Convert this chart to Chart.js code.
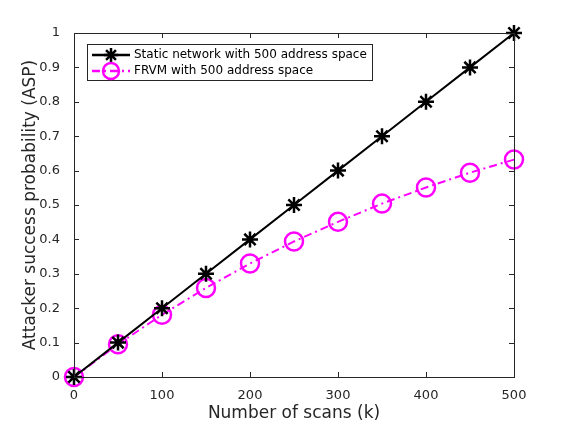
<!DOCTYPE html>
<html>
<head>
<meta charset="utf-8">
<script src="https://cdn.jsdelivr.net/npm/chart.js@4/dist/chart.umd.min.js"></script>
<style>
  html, body { margin: 0; padding: 0; background: #fff; }
  #wrap { width: 568px; height: 424px; }
</style>
</head>
<body>
<div id="wrap"><canvas id="c" width="568" height="424"></canvas></div>
<script>
// Data
const scans = [0, 50, 100, 150, 200, 250, 300, 350, 400, 450, 500];
const staticAsp = [0, 0.1, 0.2, 0.3, 0.4, 0.5, 0.6, 0.7, 0.8, 0.9, 1.0];
const frvmAsp = [0, 0.095, 0.181, 0.259, 0.33, 0.394, 0.451, 0.504, 0.551, 0.594, 0.632];
const xTicks = [0, 100, 200, 300, 400, 500];
const yTicks = [0, 0.1, 0.2, 0.3, 0.4, 0.5, 0.6, 0.7, 0.8, 0.9, 1];

const FONT = 'DejaVu Sans';
const TEXT = '#262626';
const MAGENTA = '#ff00ff';

// box around the axes with inward ticks, MATLAB style
const boxPlugin = {
    id: 'box',
    afterDraw(chart) {
        const { ctx, chartArea: a, scales: { x, y } } = chart;
        ctx.save();
        ctx.strokeStyle = '#262626';
        ctx.lineWidth = 1;
        ctx.strokeRect(a.left + 0.5, a.top + 0.5, a.right - a.left, a.bottom - a.top);
        ctx.beginPath();
        xTicks.forEach(v => {
            const px = Math.round(x.getPixelForValue(v)) + 0.5;
            ctx.moveTo(px, a.bottom); ctx.lineTo(px, a.bottom - 5);
            ctx.moveTo(px, a.top); ctx.lineTo(px, a.top + 5);
        });
        yTicks.forEach(v => {
            const py = Math.round(y.getPixelForValue(v)) + 0.5;
            ctx.moveTo(a.left, py); ctx.lineTo(a.left + 5, py);
            ctx.moveTo(a.right, py); ctx.lineTo(a.right - 5, py);
        });
        ctx.stroke();
        ctx.restore();
    }
};

function drawStar(ctx, cx, cy, r) {
    ctx.beginPath();
    for (let i = 0; i < 4; i++) {
        const ang = i * Math.PI / 4;
        ctx.moveTo(cx - r * Math.cos(ang), cy - r * Math.sin(ang));
        ctx.lineTo(cx + r * Math.cos(ang), cy + r * Math.sin(ang));
    }
    ctx.stroke();
}

// legend box in upper left
const legendPlugin = {
    id: 'mLegend',
    afterDraw(chart) {
        const { ctx } = chart;
        const lx = 87, ly = 44, lw = 285, lh = 36;
        ctx.save();
        ctx.fillStyle = '#fff';
        ctx.fillRect(lx, ly, lw, lh);
        ctx.strokeStyle = '#262626';
        ctx.lineWidth = 1;
        ctx.strokeRect(lx + 0.5, ly + 0.5, lw, lh);

        // static row
        let ry = ly + 11;
        ctx.strokeStyle = '#000';
        ctx.lineWidth = 2.5;
        ctx.beginPath(); ctx.moveTo(lx + 5, ry); ctx.lineTo(lx + 43, ry); ctx.stroke();
        drawStar(ctx, lx + 24, ry, 7);

        // frvm row
        ry = ly + 27;
        ctx.strokeStyle = MAGENTA;
        ctx.setLineDash([8, 4, 2, 4]);
        ctx.beginPath(); ctx.moveTo(lx + 5, ry); ctx.lineTo(lx + 43, ry); ctx.stroke();
        ctx.setLineDash([]);
        ctx.beginPath(); ctx.arc(lx + 24, ry, 8, 0, Math.PI * 2); ctx.stroke();

        ctx.fillStyle = '#000';
        ctx.font = '12px ' + FONT;
        ctx.textBaseline = 'middle';
        ctx.fillText('Static network with 500 address space', lx + 47, ly + 11);
        ctx.fillText('FRVM with 500 address space', lx + 47, ly + 27);
        ctx.restore();
    }
};

new Chart(document.getElementById('c'), {
    type: 'line',
    data: {
        labels: scans,
        datasets: [{
            label: 'Static network with 500 address space',
            data: scans.map((s, i) => ({ x: s, y: staticAsp[i] })),
            borderColor: '#000',
            borderWidth: 2,
            pointStyle: 'star',
            pointRadius: 8,
            pointBorderWidth: 2.5,
            pointBorderColor: '#000',
            pointBackgroundColor: '#000',
            tension: 0,
            fill: false
        }, {
            label: 'FRVM with 500 address space',
            data: scans.map((s, i) => ({ x: s, y: frvmAsp[i] })),
            borderColor: MAGENTA,
            borderWidth: 2,
            borderDash: [8, 4, 2, 4],
            pointStyle: 'circle',
            pointRadius: 9,
            pointBorderWidth: 2.5,
            pointBorderColor: MAGENTA,
            pointBackgroundColor: 'rgba(0,0,0,0)',
            tension: 0,
            fill: false
        }]
    },
    options: {
        responsive: false,
        animation: false,
        clip: false,
        layout: { padding: { top: 33, right: 54, left: 20, bottom: 0 } },
        plugins: { legend: { display: false }, tooltip: { enabled: false } },
        scales: {
            x: {
                type: 'linear',
                min: 0, max: 500,
                afterBuildTicks: s => { s.ticks = xTicks.map(v => ({ value: v })); },
                afterFit: s => { s.height = 47; },
                grid: { display: false },
                border: { display: false },
                ticks: { color: TEXT, font: { family: FONT, size: 13 }, padding: 3, maxRotation: 0 },
                title: { display: true, text: 'Number of scans (k)', color: TEXT, font: { family: FONT, size: 17 }, padding: { top: 0, bottom: 0 } }
            },
            y: {
                type: 'linear',
                min: 0, max: 1,
                afterBuildTicks: s => { s.ticks = yTicks.map(v => ({ value: v })); },
                afterFit: s => { s.width = 54; },
                grid: { display: false },
                border: { display: false },
                ticks: { color: TEXT, font: { family: FONT, size: 13 }, padding: 6, callback: v => String(Math.round(v * 10) / 10) },
                title: { display: true, text: 'Attacker success probability (ASP)', color: TEXT, font: { family: FONT, size: 17 }, padding: { top: 0, bottom: 0 } }
            }
        }
    },
    plugins: [boxPlugin, legendPlugin]
});
</script>
</body>
</html>
